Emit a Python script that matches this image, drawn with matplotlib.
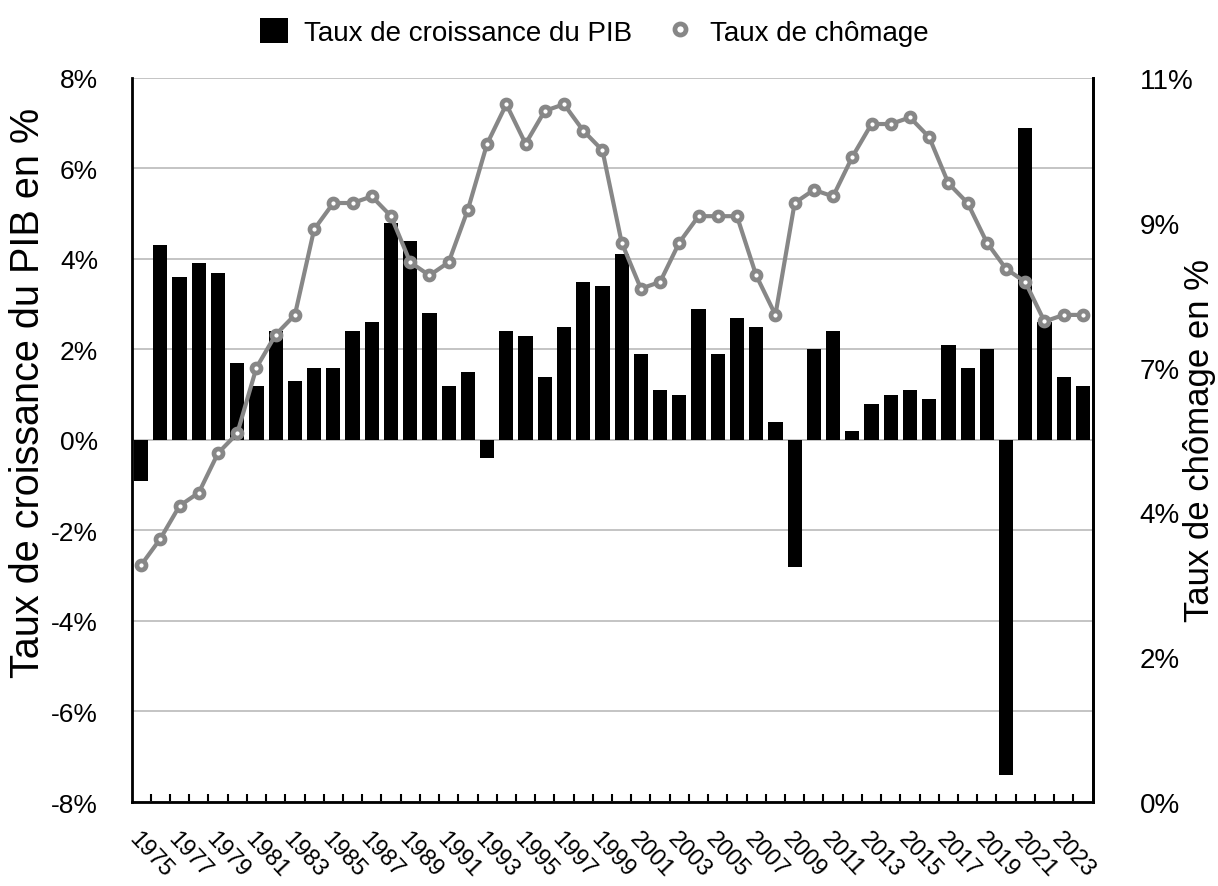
import matplotlib
matplotlib.use('Agg')
import matplotlib.pyplot as plt
from matplotlib.lines import Line2D
from matplotlib.patches import Patch
import numpy as np

plt.rcParams['font.family'] = ['Liberation Sans', 'DejaVu Sans']

annees = list(range(1975, 2025))
croissance_pib = [-0.9, 4.3, 3.6, 3.9, 3.7, 1.7, 1.2, 2.4, 1.3, 1.6,
                  1.6, 2.4, 2.6, 4.8, 4.4, 2.8, 1.2, 1.5, -0.4, 2.4,
                  2.3, 1.4, 2.5, 3.5, 3.4, 4.1, 1.9, 1.1, 1.0, 2.9,
                  1.9, 2.7, 2.5, 0.4, -2.8, 2.0, 2.4, 0.2, 0.8, 1.0,
                  1.1, 0.9, 2.1, 1.6, 2.0, -7.4, 6.9, 2.6, 1.4, 1.2]
chomage = [3.6, 4.0, 4.5, 4.7, 5.3, 5.6, 6.6, 7.1, 7.4, 8.7,
           9.1, 9.1, 9.2, 8.9, 8.2, 8.0, 8.2, 9.0, 10.0, 10.6,
           10.0, 10.5, 10.6, 10.2, 9.9, 8.5, 7.8, 7.9, 8.5, 8.9,
           8.9, 8.9, 8.0, 7.4, 9.1, 9.3, 9.2, 9.8, 10.3, 10.3,
           10.4, 10.1, 9.4, 9.1, 8.5, 8.1, 7.9, 7.3, 7.4, 7.4]
ticks_gauche = [-8, -6, -4, -2, 0, 2, 4, 6, 8]
ticks_droite = [0, 2.2, 4.4, 6.6, 8.8, 11]

gris = '#878787'

fig = plt.figure(figsize=(12.18, 8.87), dpi=100)
ax = fig.add_axes([0.108, 0.0947, 0.789, 0.8163])
x = np.arange(len(annees))

# barres : croissance du PIB (axe gauche)
ax.bar(x, croissance_pib, width=0.74, color='black', zorder=2)
ax.set_xlim(-0.5, len(annees) - 0.5)
ax.set_ylim(-8, 8)
ax.set_yticks(ticks_gauche)
ax.set_yticklabels([f'{v}%' for v in ticks_gauche])
ax.yaxis.grid(True, color='#c4c4c4', lw=1.4)
ax.set_axisbelow(True)
ax.tick_params(axis='y', length=0, pad=24, labelsize=19)

ax.set_xticks(x[::2])
ax.set_xticklabels(annees[::2], rotation=-47, ha='left', va='top',
                   rotation_mode='anchor', fontsize=17)
ax.set_xticks(x[:-1] + 0.5, minor=True)
ax.tick_params(axis='x', which='major', length=0, pad=18)
ax.tick_params(axis='x', which='minor', direction='in', length=6, width=1.5)
for s in ['left', 'right', 'bottom']:
    ax.spines[s].set_linewidth(2)
ax.spines['top'].set_visible(False)
ax.set_ylabel('Taux de croissance du PIB en %', fontsize=28.5)
ax.yaxis.set_label_coords(-0.088, 0.566)

# ligne : chomage (axe droit)
ax2 = ax.twinx()
ax2.plot(x, chomage, color=gris, lw=3, marker='o', ms=6.5,
         mfc='white', mec=gris, mew=3.4, zorder=3)
ax2.set_ylim(0, 11)
ax2.set_yticks(ticks_droite)
ax2.set_yticklabels([f'{v:.0f}%' for v in ticks_droite])
ax2.tick_params(axis='y', length=0, pad=34, labelsize=20)
ax2.spines['top'].set_visible(False)
ax2.spines['right'].set_linewidth(2)
ax2.set_ylabel('Taux de chômage en %', fontsize=25)
ax2.yaxis.set_label_coords(1.094, 0.5)

poignees = [Patch(facecolor='black'),
            Line2D([], [], ls='none', marker='o', ms=8, mfc='white', mec=gris, mew=3.4)]
fig.legend(poignees, ['Taux de croissance du PIB', 'Taux de chômage'],
           loc='center', bbox_to_anchor=(0.488, 0.963), ncol=2, frameon=False,
           fontsize=20, handlelength=1.0, handleheight=1.0,
           handletextpad=0.6, columnspacing=1.2)

fig.savefig('out.png', dpi=100)
